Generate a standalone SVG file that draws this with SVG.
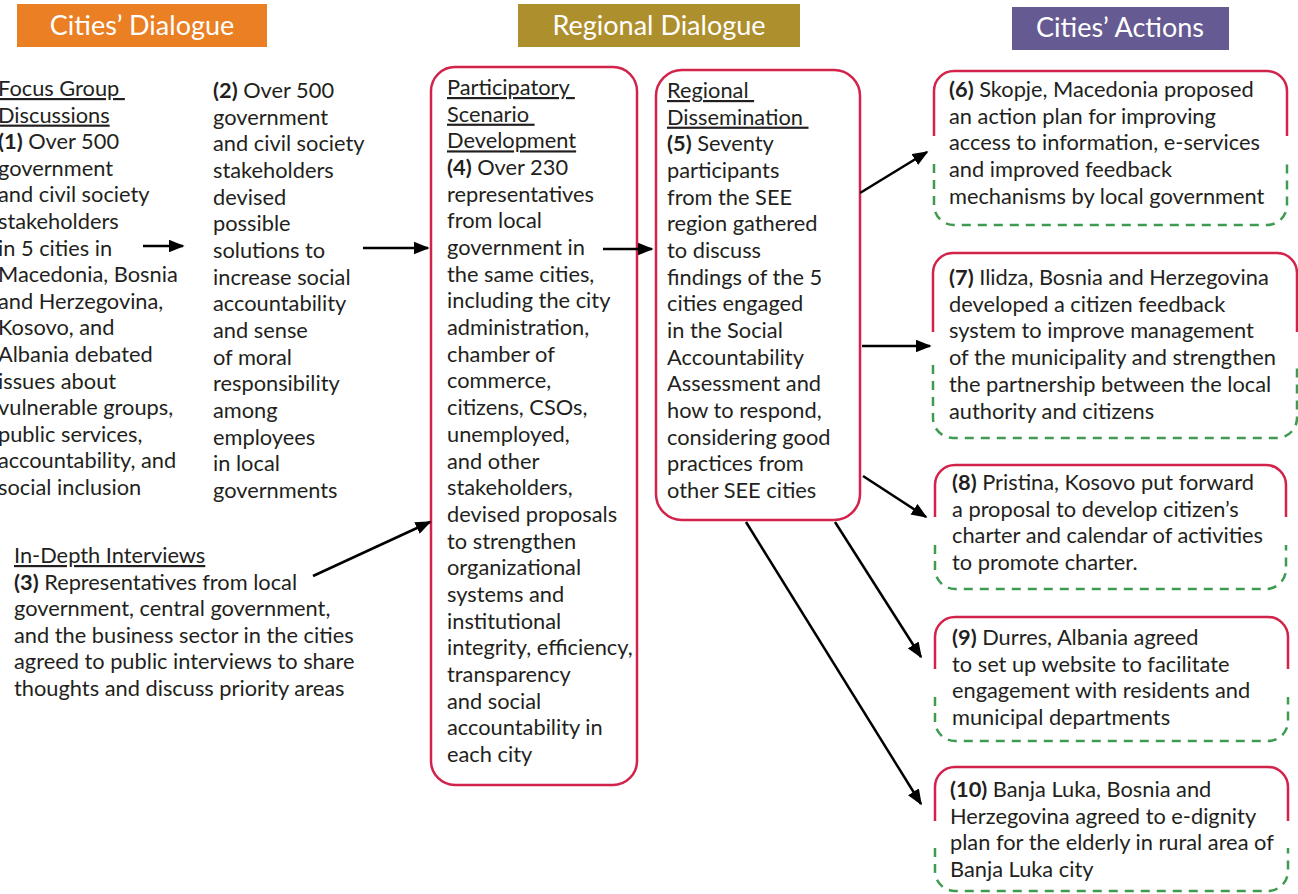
<svg xmlns="http://www.w3.org/2000/svg" width="1298" height="894" viewBox="0 0 1298 894">
<style>
.t{font-family:Lato,"Noto Sans",sans-serif;font-size:21.8px;fill:#231f20}
.b{font-weight:bold}
.u{text-decoration:underline}
.h{font-family:Lato,"Noto Sans",sans-serif;font-size:27px;fill:#fff;text-anchor:middle}
.red{fill:none;stroke:#d2234b;stroke-width:2.5}
.grn{fill:none;stroke:#3f9b50;stroke-width:2.5;stroke-dasharray:9 7}
.c{fill:none;stroke:#000;stroke-width:2.5;marker-end:url(#ah)}
</style>
<defs>
<marker id="ah" viewBox="0 0 10 8" refX="9" refY="4" markerWidth="6.4" markerHeight="5.1" markerUnits="strokeWidth" orient="auto">
<path d="M0,0 L10,4 L0,8 z" fill="#000"/>
</marker>
</defs>
<rect width="1298" height="894" fill="#fff"/>

<g id="hdr-cities-dialogue">
<rect x="17" y="4" width="250" height="43" fill="#ea7f24"/>
<text class="h" x="142" y="35">Cities’ Dialogue</text>
</g>
<g id="hdr-regional-dialogue">
<rect x="518" y="4" width="282" height="43" fill="#ae8f2e"/>
<text class="h" x="659" y="35">Regional Dialogue</text>
</g>
<g id="hdr-cities-actions">
<rect x="1012" y="7" width="217" height="43" fill="#655a91"/>
<text class="h" x="1120" y="37">Cities’ Actions</text>
</g>

<g id="n1">
<text class="t" x="-2" y="96">
<tspan x="-2" class="u">Focus Group&#160;</tspan>
<tspan x="-2" dy="26.6" class="u">Discussions</tspan>
<tspan x="-2" dy="26.6"><tspan class="b">(1)</tspan> Over 500</tspan>
<tspan x="-2" dy="26.6">government</tspan>
<tspan x="-2" dy="26.6">and civil society</tspan>
<tspan x="-2" dy="26.6">stakeholders</tspan>
<tspan x="-2" dy="26.6">in 5 cities in</tspan>
<tspan x="-2" dy="26.6">Macedonia, Bosnia</tspan>
<tspan x="-2" dy="26.6">and Herzegovina,</tspan>
<tspan x="-2" dy="26.6">Kosovo, and</tspan>
<tspan x="-2" dy="26.6">Albania debated</tspan>
<tspan x="-2" dy="26.6">issues about</tspan>
<tspan x="-2" dy="26.6">vulnerable groups,</tspan>
<tspan x="-2" dy="26.6">public services,</tspan>
<tspan x="-2" dy="26.6">accountability, and</tspan>
<tspan x="-2" dy="26.6">social inclusion</tspan>
</text>
</g>

<g id="n2">
<text class="t" x="213" y="98">
<tspan x="213"><tspan class="b">(2)</tspan> Over 500</tspan>
<tspan x="213" dy="26.67">government</tspan>
<tspan x="213" dy="26.67">and civil society</tspan>
<tspan x="213" dy="26.67">stakeholders</tspan>
<tspan x="213" dy="26.67">devised</tspan>
<tspan x="213" dy="26.67">possible</tspan>
<tspan x="213" dy="26.67">solutions to</tspan>
<tspan x="213" dy="26.67">increase social</tspan>
<tspan x="213" dy="26.67">accountability</tspan>
<tspan x="213" dy="26.67">and sense</tspan>
<tspan x="213" dy="26.67">of moral</tspan>
<tspan x="213" dy="26.67">responsibility</tspan>
<tspan x="213" dy="26.67">among</tspan>
<tspan x="213" dy="26.67">employees</tspan>
<tspan x="213" dy="26.67">in local</tspan>
<tspan x="213" dy="26.67">governments</tspan>
</text>
</g>

<g id="n3">
<text class="t" x="14" y="563">
<tspan x="14" class="u">In-Depth Interviews</tspan>
<tspan x="14" dy="26.6"><tspan class="b">(3)</tspan> Representatives from local</tspan>
<tspan x="14" dy="26.6">government, central government,</tspan>
<tspan x="14" dy="26.6">and the business sector in the cities</tspan>
<tspan x="14" dy="26.6">agreed to public interviews to share</tspan>
<tspan x="14" dy="26.6">thoughts and discuss priority areas</tspan>
</text>
</g>

<g id="n4">
<rect class="red" x="431" y="67" width="206" height="718" rx="24"/>
<text class="t" x="447" y="95">
<tspan x="447" class="u">Participatory&#160;</tspan>
<tspan x="447" dy="26.68" class="u">Scenario&#160;</tspan>
<tspan x="447" dy="26.68" class="u">Development</tspan>
<tspan x="447" dy="26.68"><tspan class="b">(4)</tspan> Over 230</tspan>
<tspan x="447" dy="26.68">representatives</tspan>
<tspan x="447" dy="26.68">from local</tspan>
<tspan x="447" dy="26.68">government in</tspan>
<tspan x="447" dy="26.68">the same cities,</tspan>
<tspan x="447" dy="26.68">including the city</tspan>
<tspan x="447" dy="26.68">administration,</tspan>
<tspan x="447" dy="26.68">chamber of</tspan>
<tspan x="447" dy="26.68">commerce,</tspan>
<tspan x="447" dy="26.68">citizens, CSOs,</tspan>
<tspan x="447" dy="26.68">unemployed,</tspan>
<tspan x="447" dy="26.68">and other</tspan>
<tspan x="447" dy="26.68">stakeholders,</tspan>
<tspan x="447" dy="26.68">devised proposals</tspan>
<tspan x="447" dy="26.68">to strengthen</tspan>
<tspan x="447" dy="26.68">organizational</tspan>
<tspan x="447" dy="26.68">systems and</tspan>
<tspan x="447" dy="26.68">institutional</tspan>
<tspan x="447" dy="26.68">integrity, efficiency,</tspan>
<tspan x="447" dy="26.68">transparency</tspan>
<tspan x="447" dy="26.68">and social</tspan>
<tspan x="447" dy="26.68">accountability in</tspan>
<tspan x="447" dy="26.68">each city</tspan>
</text>
</g>

<g id="n5">
<rect class="red" x="656" y="70" width="204" height="450" rx="26"/>
<text class="t" x="667" y="98">
<tspan x="667" class="u">Regional&#160;</tspan>
<tspan x="667" dy="26.67" class="u">Dissemination&#160;</tspan>
<tspan x="667" dy="26.67"><tspan class="b">(5)</tspan> Seventy</tspan>
<tspan x="667" dy="26.67">participants</tspan>
<tspan x="667" dy="26.67">from the SEE</tspan>
<tspan x="667" dy="26.67">region gathered</tspan>
<tspan x="667" dy="26.67">to discuss</tspan>
<tspan x="667" dy="26.67">findings of the 5</tspan>
<tspan x="667" dy="26.67">cities engaged</tspan>
<tspan x="667" dy="26.67">in the Social</tspan>
<tspan x="667" dy="26.67">Accountability</tspan>
<tspan x="667" dy="26.67">Assessment and</tspan>
<tspan x="667" dy="26.67">how to respond,</tspan>
<tspan x="667" dy="26.67">considering good</tspan>
<tspan x="667" dy="26.67">practices from</tspan>
<tspan x="667" dy="26.67">other SEE cities</tspan>
</text>
</g>

<g id="n6">
<path class="red" d="M934,136 V91 A20,20 0 0 1 954,71 H1267 A20,20 0 0 1 1287,91 V136"/>
<path class="grn" d="M934,164 V205 A20,20 0 0 0 954,225 H1267 A20,20 0 0 0 1287,205 V164"/>
<text class="t" x="949" y="97">
<tspan x="949"><tspan class="b">(6)</tspan> Skopje, Macedonia proposed</tspan>
<tspan x="949" dy="26.7">an action plan for improving</tspan>
<tspan x="949" dy="26.7">access to information, e-services</tspan>
<tspan x="949" dy="26.7">and improved feedback</tspan>
<tspan x="949" dy="26.7">mechanisms by local government</tspan>
</text>
</g>

<g id="n7">
<path class="red" d="M933,332 V273 A20,20 0 0 1 953,253 H1277 A20,20 0 0 1 1297,273 V332"/>
<path class="grn" d="M933,365 V418 A20,20 0 0 0 953,438 H1277 A20,20 0 0 0 1297,418 V365"/>
<text class="t" x="949" y="285">
<tspan x="949"><tspan class="b">(7)</tspan> Ilidza, Bosnia and Herzegovina</tspan>
<tspan x="949" dy="26.7">developed a citizen feedback</tspan>
<tspan x="949" dy="26.7">system to improve management</tspan>
<tspan x="949" dy="26.7">of the municipality and strengthen</tspan>
<tspan x="949" dy="26.7">the partnership between the local</tspan>
<tspan x="949" dy="26.7">authority and citizens</tspan>
</text>
</g>

<g id="n8">
<path class="red" d="M935,517 V485 A20,20 0 0 1 955,465 H1266 A20,20 0 0 1 1286,485 V517"/>
<path class="grn" d="M935,545 V569 A20,20 0 0 0 955,589 H1266 A20,20 0 0 0 1286,569 V545"/>
<text class="t" x="952" y="490">
<tspan x="952"><tspan class="b">(8)</tspan> Pristina, Kosovo put forward</tspan>
<tspan x="952" dy="26.7">a proposal to develop citizen’s</tspan>
<tspan x="952" dy="26.7">charter and calendar of activities</tspan>
<tspan x="952" dy="26.7">to promote charter.</tspan>
</text>
</g>

<g id="n9">
<path class="red" d="M935,669 V637 A20,20 0 0 1 955,617 H1268 A20,20 0 0 1 1288,637 V669"/>
<path class="grn" d="M935,697 V721 A20,20 0 0 0 955,741 H1268 A20,20 0 0 0 1288,721 V697"/>
<text class="t" x="952" y="645">
<tspan x="952"><tspan class="b">(9)</tspan> Durres, Albania agreed</tspan>
<tspan x="952" dy="26.7">to set up website to facilitate</tspan>
<tspan x="952" dy="26.7">engagement with residents and</tspan>
<tspan x="952" dy="26.7">municipal departments</tspan>
</text>
</g>

<g id="n10">
<path class="red" d="M935,821 V787 A20,20 0 0 1 955,767 H1268 A20,20 0 0 1 1288,787 V821"/>
<path class="grn" d="M935,848 V871 A20,20 0 0 0 955,891 H1268 A20,20 0 0 0 1288,871 V848"/>
<text class="t" x="950" y="797">
<tspan x="950"><tspan class="b">(10)</tspan> Banja Luka, Bosnia and</tspan>
<tspan x="950" dy="26.7">Herzegovina agreed to e-dignity</tspan>
<tspan x="950" dy="26.7">plan for the elderly in rural area of</tspan>
<tspan x="950" dy="26.7">Banja Luka city</tspan>
</text>
</g>

<g id="connectors">
<line class="c" x1="143" y1="246" x2="183" y2="246"/>
<line class="c" x1="363" y1="248" x2="428" y2="248"/>
<line class="c" x1="313" y1="576" x2="430" y2="522"/>
<line class="c" x1="603" y1="249" x2="652" y2="249"/>
<line class="c" x1="860" y1="193" x2="927" y2="152"/>
<line class="c" x1="862" y1="346" x2="930" y2="346"/>
<line class="c" x1="863" y1="476" x2="926" y2="517"/>
<line class="c" x1="835" y1="522" x2="921" y2="657"/>
<line class="c" x1="746" y1="522" x2="921" y2="804"/>
</g>
</svg>
